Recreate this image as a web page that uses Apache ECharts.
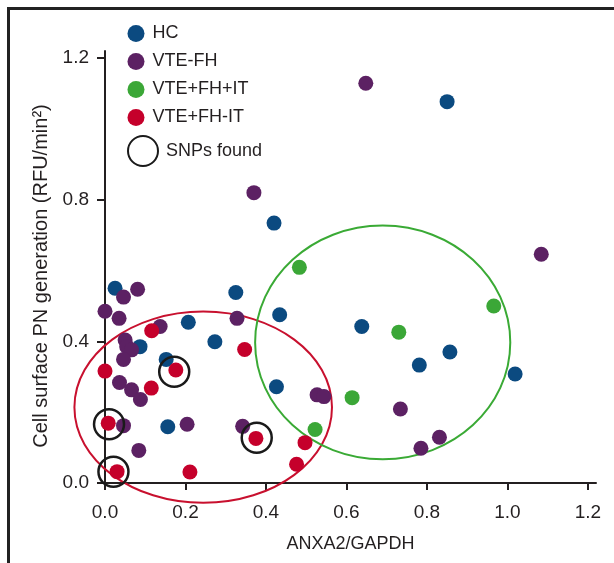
<!DOCTYPE html>
<html>
<head>
<meta charset="utf-8">
<script src="https://cdn.jsdelivr.net/npm/echarts@6/dist/echarts.min.js"></script>
<style>
  html, body { margin: 0; padding: 0; background: #fff; }
  #main { width: 614px; height: 563px; }
</style>
</head>
<body>
<div id="main"></div>
<script>
// 数据 (x = ANXA2/GAPDH, y = RFU/min2)
var hcData = [
    [0.025, 0.550], [0.087, 0.385], [0.152, 0.349], [0.207, 0.454], [0.273, 0.399],
    [0.325, 0.538], [0.156, 0.159], [0.434, 0.475], [0.426, 0.272], [0.420, 0.734],
    [0.638, 0.442], [0.857, 0.370], [0.781, 0.333], [1.019, 0.308], [0.850, 1.077]
];
var vteFhData = [
    [0.081, 0.547], [0.046, 0.525], [0.000, 0.485], [0.035, 0.465], [0.137, 0.442],
    [0.050, 0.404], [0.054, 0.385], [0.066, 0.376], [0.046, 0.349], [0.036, 0.284],
    [0.066, 0.263], [0.088, 0.236], [0.046, 0.162], [0.204, 0.166], [0.084, 0.092],
    [0.328, 0.465], [0.342, 0.160], [0.370, 0.820], [0.648, 1.129], [1.084, 0.646],
    [0.527, 0.249], [0.544, 0.244], [0.734, 0.209], [0.831, 0.129], [0.785, 0.098]
];
var vteFhItData = [
    [0.483, 0.609], [0.730, 0.426], [0.966, 0.500], [0.614, 0.241], [0.522, 0.151]
];
var vteFhNoItData = [
    [0.116, 0.430], [0.000, 0.316], [0.176, 0.319], [0.115, 0.268], [0.347, 0.377],
    [0.008, 0.169], [0.030, 0.032], [0.211, 0.031], [0.375, 0.126], [0.497, 0.114],
    [0.476, 0.053]
];
var snpData = [
    [0.010, 0.166], [0.021, 0.032], [0.172, 0.314], [0.377, 0.128]
];
// 椭圆: [cx, cy, rx, ry]
var redEllipse = [[0.244, 0.214, 0.320, 0.270]];
var greenEllipse = [[0.690, 0.397, 0.317, 0.330]];

var xTicks = [0, 0.2, 0.4, 0.6, 0.8, 1.0, 1.2];
var yTicks = [0, 0.4, 0.8, 1.2];

var FONT = 'Liberation Sans';
var INK = '#231f20';

var chart = echarts.init(document.getElementById('main'));

function ellipseItem(color) {
    return function (params, api) {
        var c = api.coord([api.value(0), api.value(1)]);
        var s = api.size([api.value(2), api.value(3)]);
        return {
            type: 'ellipse',
            shape: { cx: c[0], cy: c[1], rx: s[0], ry: s[1] },
            style: { fill: 'none', stroke: color, lineWidth: 2 }
        };
    };
}

var option = {
    backgroundColor: '#fff',
    animation: false,
    textStyle: { fontFamily: FONT, color: INK },
    grid: { left: 105, right: 18, top: 51, bottom: 80 },
    graphic: [{
        type: 'polyline',
        shape: { points: [[8.5, 563], [8.5, 8.5], [614, 8.5]] },
        style: { stroke: '#222', lineWidth: 3, fill: 'none' },
        silent: true
    }],
    legend: [{
        orient: 'vertical',
        left: 127.5,
        top: 24.5,
        padding: 0,
        itemWidth: 17,
        itemHeight: 17,
        itemGap: 10,
        icon: 'circle',
        textStyle: { fontFamily: FONT, fontSize: 18, color: INK, padding: [0, 0, 0, 3] },
        data: ['HC', 'VTE-FH', 'VTE+FH+IT', 'VTE+FH-IT']
    }, {
        orient: 'vertical',
        left: 127,
        top: 135,
        padding: 0,
        itemWidth: 30,
        itemHeight: 30,
        icon: 'circle',
        textStyle: { fontFamily: FONT, fontSize: 18, color: INK, padding: [0, 0, 0, 3] },
        data: ['SNPs found']
    }],
    xAxis: {
        type: 'value',
        min: 0,
        max: 1.22,
        name: 'ANXA2/GAPDH',
        nameLocation: 'middle',
        nameGap: 52,
        nameTextStyle: { fontFamily: FONT, fontSize: 18, color: INK },
        axisLine: { onZero: false, lineStyle: { color: INK, width: 2 } },
        axisTick: { customValues: xTicks, length: 7, lineStyle: { color: INK, width: 2 } },
        axisLabel: {
            customValues: xTicks, margin: 20, fontFamily: FONT, fontSize: 19, color: INK,
            formatter: function (v) { return v.toFixed(1); }
        },
        splitLine: { show: false }
    },
    yAxis: {
        type: 'value',
        min: 0,
        max: 1.22,
        name: 'Cell surface PN generation (RFU/min\u00b2)',
        nameLocation: 'middle',
        nameGap: 54,
        nameTextStyle: { fontFamily: FONT, fontSize: 20, color: INK, padding: [0, 18, 0, 0] },
        axisLine: { onZero: false, lineStyle: { color: INK, width: 2 } },
        axisTick: { customValues: yTicks, length: 8, lineStyle: { color: INK, width: 2 } },
        axisLabel: {
            customValues: yTicks, margin: 16, fontFamily: FONT, fontSize: 19, color: INK,
            formatter: function (v) { return v.toFixed(1); }
        },
        splitLine: { show: false }
    },
    series: [
        {
            type: 'custom', name: 'redEllipse', data: redEllipse, clip: false, z: 1, silent: true,
            renderItem: ellipseItem('#c8102e')
        },
        {
            type: 'custom', name: 'greenEllipse', data: greenEllipse, clip: false, z: 1, silent: true,
            renderItem: ellipseItem('#3aaa35')
        },
        {
            type: 'scatter', name: 'HC', data: hcData, symbolSize: 15, z: 3,
            itemStyle: { color: '#0b4a80', opacity: 1 }
        },
        {
            type: 'scatter', name: 'VTE-FH', data: vteFhData, symbolSize: 15, z: 3,
            itemStyle: { color: '#5c2163', opacity: 1 }
        },
        {
            type: 'scatter', name: 'VTE+FH+IT', data: vteFhItData, symbolSize: 15, z: 3,
            itemStyle: { color: '#3ba737', opacity: 1 }
        },
        {
            type: 'scatter', name: 'VTE+FH-IT', data: vteFhNoItData, symbolSize: 15, z: 3,
            itemStyle: { color: '#c5002b', opacity: 1 }
        },
        {
            type: 'scatter', name: 'SNPs found', data: snpData, symbolSize: 30, z: 4,
            itemStyle: { color: 'rgba(0,0,0,0)', borderColor: '#1a1a1a', borderWidth: 2.5, opacity: 1 }
        }
    ]
};

chart.setOption(option);
</script>
</body>
</html>
